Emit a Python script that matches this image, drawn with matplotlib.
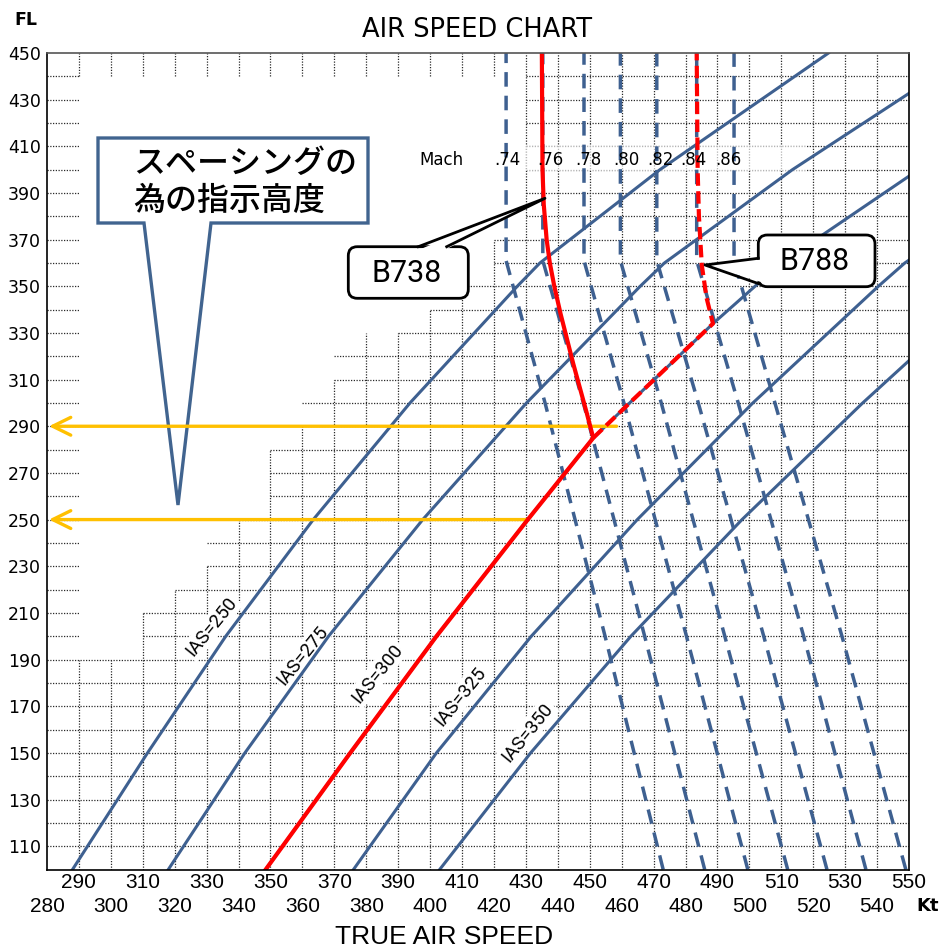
import matplotlib
matplotlib.use('Agg')
import matplotlib.pyplot as plt
from matplotlib.patches import Polygon, FancyBboxPatch, Rectangle
from matplotlib.transforms import Affine2D

# 1. Values (TAS in kt against flight level)
ias_names = ['IAS=250', 'IAS=275', 'IAS=300', 'IAS=325', 'IAS=350']

ias250_fl = [100, 150, 200, 250, 300, 350, 360, 400, 450]
ias250_kt = [288.0, 311.5, 336.0, 363.4, 393.7, 427.3, 434.4, 472.0, 524.8]
ias275_fl = [100, 150, 200, 250, 300, 350, 360, 400, 450]
ias275_kt = [318.0, 342.0, 368.2, 397.7, 430.2, 465.8, 473.4, 513.5, 569.3]
ias300_fl = [100, 150, 200, 250, 285, 300, 334, 360, 400]
ias300_kt = [348.5, 375.0, 402.0, 430.6, 451.1, 462.5, 488.6, 510.0, 553.0]
ias325_fl = [100, 150, 200, 250, 300, 350, 360, 370]
ias325_kt = [376.0, 402.0, 431.7, 464.9, 501.1, 540.4, 548.7, 559.4]
ias350_fl = [100, 150, 200, 250, 300, 320]
ias350_kt = [403.0, 431.5, 462.9, 497.7, 535.5, 551.5]

# constant Mach lines (dashed)
mach_names = ['.74', '.76', '.78', '.80', '.82', '.84', '.86']
mach_fl = [100, 200, 300, 361, 450]
m74_kt = [473.0, 454.8, 436.0, 423.8, 423.8]
m76_kt = [486.0, 467.2, 448.0, 435.3, 435.3]
m78_kt = [499.5, 480.3, 460.7, 448.2, 448.2]
m80_kt = [512.0, 492.3, 472.4, 459.6, 459.6]
m82_kt = [524.3, 504.5, 484.0, 471.0, 471.0]
m84_kt = [536.5, 517.0, 496.5, 483.5, 483.5]
m86_kt = [549.0, 529.0, 508.0, 495.2, 495.2]

# aircraft profiles (red)
b738_fl = [100, 150, 200, 250, 285, 296, 317, 338, 350, 360, 370, 385, 400, 450]
b738_kt = [348.5, 375.0, 402.0, 430.6, 451.1, 449.0, 444.8, 440.9, 438.9, 437.5,
           436.5, 435.6, 435.2, 435.0]
b788_fl = [285, 300, 334, 345, 359, 380, 400, 450]
b788_kt = [451.1, 462.5, 488.6, 486.6, 485.1, 484.2, 483.8, 483.5]

# assigned levels (yellow arrows) and where they start
arrow_fl = [290, 250]
arrow_kt = [458.4, 430.6]

# stepped grid: top of each vertical line, start of each horizontal line
grid_kt = list(range(290, 550, 10))
grid_kt_top = [190, 190, 210, 220, 230, 250, 280, 290, 310, 330, 330, 340, 350, 370] + [450] * 12
grid_fl = list(range(110, 450, 10))
grid_fl_start = [280] * 9 + [310, 310, 320, 330, 330, 340, 350, 350, 350, 360, 360,
                             370, 370, 390, 400, 410, 420, 420] + [430] * 7

x_major = list(range(290, 551, 20))
x_minor = list(range(280, 541, 20))
y_ticks = list(range(110, 451, 20))

BLUE = '#3E6090'
RED = '#FF0000'
YELLOW = '#FFC000'

# 2. Figure, axes placed like the original
fig = plt.figure(figsize=(9.41, 9.49), dpi=100)
ax = fig.add_axes([47 / 941, 1 - 869.5 / 949, 862 / 941, 816.5 / 949])
# pixel coordinates (origin top-left) for the callouts and loose texts
px = Affine2D().scale(1 / 941, -1 / 949).translate(0, 1) + fig.transFigure

# 3. Grid (only in the lower right part, with short stubs on the edges)
gkw = dict(color='#2a2a2a', lw=0.9, ls=(0, (1, 1.2)), zorder=1)
for x, top in zip(grid_kt, grid_kt_top):
    ax.plot([x, x], [100, top], **gkw)
    if top < 440:
        ax.plot([x, x], [440, 450], **gkw)
for y, start in zip(grid_fl, grid_fl_start):
    ax.plot([start, 550], [y, y], **gkw)
    if start > 290:
        ax.plot([280, 290], [y, y], **gkw)

# 4. Curves
for kt, fl in [(ias250_kt, ias250_fl), (ias275_kt, ias275_fl), (ias300_kt, ias300_fl),
               (ias325_kt, ias325_fl), (ias350_kt, ias350_fl)]:
    ax.plot(kt, fl, color=BLUE, lw=2.2, zorder=3)

for kt in [m74_kt, m76_kt, m78_kt, m80_kt, m82_kt, m84_kt, m86_kt]:
    ax.plot(kt, mach_fl, color=BLUE, lw=2.5, ls=(0, (4.2, 2.6)), zorder=3)

ax.plot(b738_kt, b738_fl, color=RED, lw=3.0, zorder=5)
ax.plot(b788_kt, b788_fl, color=RED, lw=3.0, ls=(0, (3.0, 1.3)), zorder=5)

for fl, kt in zip(arrow_fl, arrow_kt):
    ax.annotate('', xy=(280.6, fl), xytext=(kt, fl), zorder=4.5,
                arrowprops=dict(arrowstyle='->,head_length=0.65,head_width=0.32',
                                color=YELLOW, lw=2.4, mutation_scale=20,
                                shrinkA=0, shrinkB=0))

# IAS labels along the lines
ias_lab_kt = [331.5, 360.0, 383.5, 409.5, 430.5]
ias_lab_fl = [204.0, 191.8, 184.0, 174.0, 158.8]
for name, x, y in zip(ias_names, ias_lab_kt, ias_lab_fl):
    ax.text(x, y, name, rotation=51, rotation_mode='anchor', ha='center', va='center',
            fontsize=13.5, family='Roboto', zorder=2,
            bbox=dict(boxstyle='square,pad=0.1', fc='white', ec='none'))

# Mach row
ax.add_patch(Rectangle((430, 399.5), 88, 10.5, fc='white', ec='none', alpha=0.65, zorder=1.5))
ax.text(403.4, 404.2, 'Mach', ha='center', va='center', fontsize=12, zorder=6)
mach_lab_kt = [424.1, 437.8, 449.7, 461.6, 472.1, 482.6, 493.3]
for name, x in zip(mach_names, mach_lab_kt):
    ax.text(x, 404.2, name, ha='center', va='center', fontsize=12, zorder=6)

# 5. Callouts
jp_shape = [(98, 138), (368, 138), (368, 223), (211, 223), (178, 505), (144, 223), (98, 223)]
ax.add_patch(Polygon(jp_shape, closed=True, transform=px, fc='white', ec='#41648F',
                     lw=2.4, joinstyle='miter', clip_on=False, zorder=4))
ax.text(133, 164, 'スペーシングの', transform=px, fontsize=23, family=['Noto Sans CJK JP'],
        fontweight='medium', ha='left', va='center', zorder=4.2)
ax.text(133, 201, '為の指示高度', transform=px, fontsize=23, family=['Noto Sans CJK JP'],
        fontweight='medium', ha='left', va='center', zorder=4.2)

ax.add_patch(FancyBboxPatch((348.3, 246.7), 120, 51.6, boxstyle='round,pad=0,rounding_size=9',
                            transform=px, fc='white', ec='black', lw=2.0, clip_on=False, zorder=6))
ax.add_patch(Polygon([(419.5, 249.5), (445.5, 249.5), (545, 198.3)], closed=True, transform=px,
                     fc='white', ec='none', clip_on=False, zorder=6.1))
ax.plot([418.3, 545, 446.7], [246.7, 198.3, 246.7], transform=px, color='black', lw=2.0,
        clip_on=False, zorder=6.2)
ax.text(407, 273, 'B738', transform=px, fontsize=22, family='Roboto', ha='center', va='center',
        zorder=6.3)

ax.add_patch(FancyBboxPatch((758.3, 235), 116.7, 51.7, boxstyle='round,pad=0,rounding_size=9',
                            transform=px, fc='white', ec='black', lw=2.0, clip_on=False, zorder=6))
ax.add_patch(Polygon([(761, 259.5), (761, 282), (705, 265)], closed=True, transform=px,
                     fc='white', ec='none', clip_on=False, zorder=6.1))
ax.plot([758.3, 705, 759.5], [258.3, 265, 284], transform=px, color='black', lw=2.0,
        clip_on=False, zorder=6.2)
ax.text(815, 261, 'B788', transform=px, fontsize=22, family='Roboto', ha='center', va='center',
        zorder=6.3)

# 6. Axes, ticks and titles
ax.set_xlim(280, 550)
ax.set_ylim(100, 450)
ax.set_xticks(x_major)
ax.set_xticklabels([str(v) for v in x_major], fontsize=15, family='Liberation Sans')
ax.set_xticks(x_minor, minor=True)
ax.set_xticklabels([str(v) for v in x_minor], minor=True, fontsize=15, family='Liberation Sans')
ax.set_yticks(y_ticks)
ax.set_yticklabels([str(v) for v in y_ticks], fontsize=12.5)
ax.tick_params(axis='x', which='major', length=0, pad=2.5)
ax.tick_params(axis='x', which='minor', length=0, pad=19.5)
ax.tick_params(axis='y', length=0, pad=4.5)
for side in ['left', 'right', 'bottom']:
    ax.spines[side].set_linewidth(1.2)
    ax.spines[side].set_color('black')
ax.spines['top'].set_linewidth(1.2)
ax.spines['top'].set_color('#555555')
for sp in ax.spines.values():
    sp.set_zorder(7)

fig.text(477.5, 30, 'AIR SPEED CHART', transform=px, fontsize=18.5, ha='center', va='center')
fig.text(26, 20, 'FL', transform=px, fontsize=12.5, fontweight='bold', ha='center', va='center')
fig.text(928, 906, 'Kt', transform=px, fontsize=13, fontweight='bold', ha='center', va='center')
fig.text(444, 937, 'TRUE AIR SPEED', transform=px, fontsize=19, family='Liberation Sans',
         ha='center', va='center')

fig.savefig('out.png', dpi=100)
